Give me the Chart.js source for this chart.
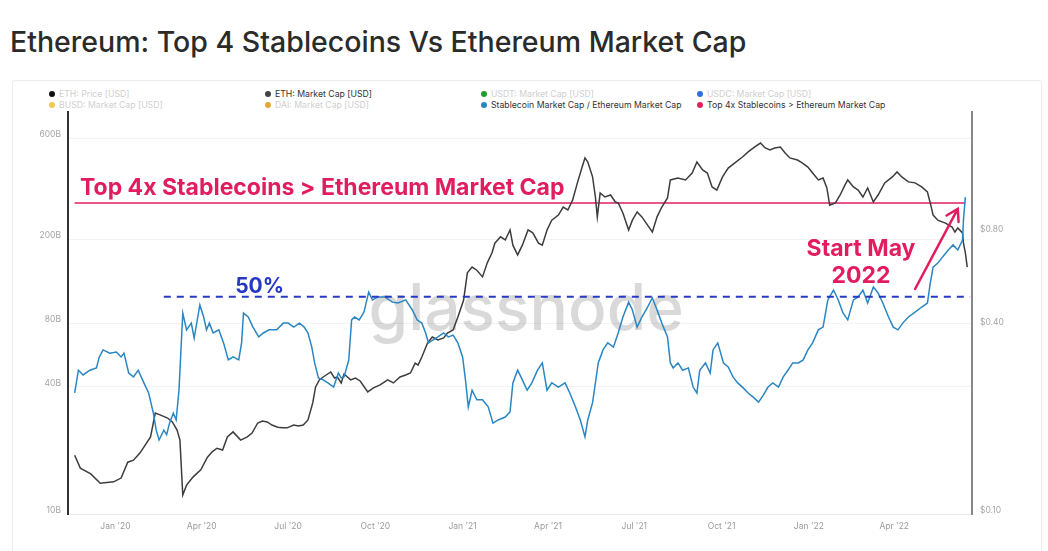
<!DOCTYPE html>
<html>
<head>
<meta charset="utf-8">
<script src="https://cdn.jsdelivr.net/npm/chart.js@4.4.0/dist/chart.umd.min.js"></script>
<style>
    html, body { margin: 0; padding: 0; background: #fff; }
    body { width: 1048px; height: 551px; position: relative; overflow: hidden; font-family: Inter, 'Noto Sans', sans-serif; }
    #title { position: absolute; left: 10px; top: 25px; font-size: 28.5px; line-height: 34px; color: #2b2b2b; font-weight: 500; white-space: nowrap; }
    #card { position: absolute; left: 12px; top: 80px; width: 1028px; height: 480px; border: 1px solid #ececec; border-radius: 3px; }
    #legend { position: absolute; left: 49px; top: 88px; display: grid; grid-template-columns: repeat(4, 216px); grid-template-rows: 11px 11px; grid-auto-flow: column; font-size: 8.7px; }
    .item { display: flex; align-items: center; white-space: nowrap; }
    .dot { width: 6px; height: 6px; border-radius: 50%; margin-right: 4px; }
    .off { color: #cfcfcf; }
    .on { color: #333; }
    #chart { position: absolute; left: 0; top: 0; }
</style>
</head>
<body>
<div id="title">Ethereum: Top 4 Stablecoins Vs Ethereum Market Cap</div>
<div id="card"></div>
<div id="legend"></div>
<canvas id="chart" width="1048" height="551"></canvas>
<script>
// Quarter ticks on the x axis
const quarterDates = ['2020-01-01', '2020-04-01', '2020-07-01', '2020-10-01', '2021-01-01',
    '2021-04-01', '2021-07-01', '2021-10-01', '2022-01-01', '2022-04-01'];
const quarterLabels = ["Jan '20", "Apr '20", "Jul '20", "Oct '20", "Jan '21",
    "Apr '21", "Jul '21", "Oct '21", "Jan '22", "Apr '22"];

// ETH market cap (billions USD), x = days since 2020-01-01
const ethDay = [-43,-37,-26,-16,-2,6,13,19,26,37,
    42,47,55,60,65,68,71,75,82,90,
    97,102,107,113,118,124,132,139,144,150,
    155,160,165,171,176,181,188,193,198,203,
    208,211,215,219,227,231,234,238,241,248,
    253,258,266,272,279,287,293,300,306,311,
    316,319,323,329,334,340,346,350,356,361,
    367,371,376,381,387,392,397,400,406,411,
    416,419,424,429,435,440,446,450,455,460,
    467,472,477,482,487,492,495,498,503,506,
    508,511,516,522,527,530,535,541,545,550,
    555,561,566,571,576,582,585,593,601,608,
    613,619,624,629,634,640,646,653,661,667,
    674,680,685,690,695,701,706,711,719,724,
    730,735,741,746,750,753,759,764,769,772,
    778,783,788,793,799,804,811,819,824,829,
    836,843,850,856,859,862,867,875,882,885,
    888,893,894,896,898];
const ethMarketCap = [19.0,16.5,15.5,14.0,14.2,14.8,17.6,18.0,19.5,23.2,
    30.1,29.5,28.5,27.3,25.0,22.4,12.3,13.7,15.0,16.2,
    18.6,19.7,20.5,20.1,23.2,24.5,22.4,23.2,24.2,27.0,
    27.6,27.3,26.4,25.8,25.6,25.6,26.4,26.1,26.4,27.9,
    33.6,40.0,43.2,44.6,47.1,44.1,44.6,41.8,46.1,43.2,
    44.1,42.7,37.9,39.6,40.9,43.2,41.8,44.6,45.6,46.6,
    51.9,50.8,55.5,64.6,69.0,66.8,68.3,72.1,74.5,85.8,
    103,139,148,143,133,155,173,192,206,199,
    222,188,169,188,222,215,192,188,222,247,
    261,285,276,308,371,441,487,466,396,318,
    256,332,318,325,301,298,267,222,247,270,
    256,234,217,256,285,315,383,391,383,413,
    466,427,413,355,343,396,436,461,492,520,
    549,573,543,531,543,549,514,487,476,461,
    441,413,383,391,351,291,298,325,362,383,
    355,343,318,351,301,325,371,396,418,396,
    375,371,355,336,298,261,247,239,229,217,
    227,215,192,173,148];

// Stablecoin market cap / Ethereum market cap
const ratioDay = [-43,-39,-34,-27,-20,-17,-13,-6,1,6,
    9,14,19,24,30,35,40,43,46,51,
    54,57,61,64,67,71,75,80,83,89,
    93,96,99,103,109,114,119,124,130,133,
    135,140,145,151,156,162,170,177,182,188,
    194,199,203,207,210,214,219,224,230,235,
    238,241,246,249,252,257,262,267,271,277,
    284,292,298,306,313,318,323,327,330,335,
    340,346,351,356,361,366,369,372,376,381,
    387,393,398,404,411,416,419,424,429,434,
    439,445,450,455,460,467,474,479,485,490,
    495,498,503,506,509,514,519,525,530,535,
    541,545,550,555,561,566,571,576,582,585,
    588,593,598,604,609,613,616,622,627,630,
    635,641,646,651,656,662,667,672,678,683,
    688,693,699,704,709,714,720,725,730,735,
    741,746,751,757,762,767,772,778,783,788,
    793,799,804,809,815,820,825,830,836,843,
    850,856,859,862,867,872,878,883,888,893,
    894,896];
const stableRatio = [0.245,0.290,0.280,0.290,0.295,0.320,0.337,0.329,0.332,0.320,
    0.329,0.284,0.276,0.290,0.264,0.245,0.211,0.186,0.173,0.186,
    0.180,0.196,0.211,0.201,0.250,0.443,0.391,0.411,0.368,0.470,
    0.430,0.391,0.411,0.382,0.391,0.355,0.313,0.320,0.313,0.355,
    0.443,0.430,0.399,0.371,0.382,0.391,0.391,0.411,0.411,0.399,
    0.411,0.399,0.382,0.344,0.306,0.274,0.270,0.264,0.256,0.284,
    0.274,0.276,0.313,0.421,0.430,0.421,0.446,0.517,0.488,0.499,
    0.499,0.480,0.477,0.488,0.453,0.421,0.411,0.382,0.355,0.363,
    0.371,0.382,0.371,0.376,0.355,0.320,0.270,0.221,0.250,0.233,
    0.233,0.221,0.196,0.201,0.205,0.213,0.264,0.290,0.270,0.250,
    0.264,0.290,0.306,0.250,0.264,0.256,0.264,0.245,0.221,0.201,
    0.177,0.201,0.228,0.264,0.306,0.337,0.355,0.344,0.382,0.430,
    0.480,0.453,0.399,0.430,0.463,0.495,0.453,0.411,0.371,0.306,
    0.295,0.306,0.290,0.295,0.256,0.245,0.290,0.306,0.284,0.337,
    0.355,0.306,0.297,0.276,0.264,0.254,0.245,0.238,0.229,0.241,
    0.256,0.264,0.256,0.276,0.290,0.306,0.306,0.313,0.337,0.355,
    0.391,0.399,0.488,0.525,0.488,0.443,0.421,0.488,0.499,0.525,
    0.477,0.537,0.514,0.477,0.430,0.399,0.391,0.411,0.430,0.446,
    0.463,0.477,0.553,0.622,0.641,0.671,0.706,0.733,0.706,0.760,
    0.882,1.045];

// Reference levels
const parityLevel = 1.0;   // top 4 stablecoins = ETH market cap
const halfLevel = 0.5;     // 50% dashed line
const halfLineDays = [51, 901];

// Axis ticks
const capTicks = [10, 40, 80, 200, 600];
const ratioTicks = [0.1, 0.4, 0.8];

// Legend entries (active ones are drawn)
const legendNames = ['ETH: Price [USD]', 'BUSD: Market Cap [USD]', 'ETH: Market Cap [USD]', 'DAI: Market Cap [USD]',
    'USDT: Market Cap [USD]', 'Stablecoin Market Cap / Ethereum Market Cap', 'USDC: Market Cap [USD]', 'Top 4x Stablecoins > Ethereum Market Cap'];
const legendColors = ['#111111', '#f2c94c', '#444444', '#e0a836', '#1f9e2c', '#2a86c2', '#2f6fdc', '#e2215f'];
const legendActive = [false, false, true, false, false, true, false, true];

const PINK = '#e11d5f';
const DASH_BLUE = '#2638c4';

function dayOf(iso) {
    return Math.round((Date.parse(iso) - Date.UTC(2020, 0, 1)) / 86400000);
}
const quarterDays = quarterDates.map(dayOf);

// Build HTML legend
const legendEl = document.getElementById('legend');
legendNames.forEach((name, i) => {
    const item = document.createElement('div');
    item.className = 'item ' + (legendActive[i] ? 'on' : 'off');
    item.innerHTML = `<span class="dot" style="background:${legendColors[i]}"></span>${name}`;
    legendEl.appendChild(item);
});

// Watermark + hand drawn annotations
const annotationPlugin = {
    id: 'annotations',
    beforeDatasetsDraw(chart) {
        const { ctx } = chart;
        const xs = chart.scales.x;
        const yr = chart.scales.yRatio;
        ctx.save();
        ctx.font = '500 64px Inter';
        ctx.fillStyle = 'rgba(0,0,0,0.15)';
        ctx.textAlign = 'center';
        ctx.textBaseline = 'alphabetic';
        ctx.fillText('glassnode', xs.getPixelForValue(433), yr.getPixelForValue(halfLevel) + 33);
        ctx.restore();
    },
    afterDatasetsDraw(chart) {
        const { ctx, chartArea } = chart;
        const xs = chart.scales.x;
        const yr = chart.scales.yRatio;
        const yParity = yr.getPixelForValue(parityLevel);
        const yHalf = yr.getPixelForValue(halfLevel);
        ctx.save();

        ctx.fillStyle = PINK;
        ctx.font = 'bold 23px Inter';
        ctx.textAlign = 'left';
        ctx.textBaseline = 'alphabetic';
        ctx.fillText('Top 4x Stablecoins > Ethereum Market Cap', chartArea.left + 12, yParity - 8);

        ctx.textAlign = 'center';
        ctx.fillText('Start May', xs.getPixelForValue(786), yHalf - 41);
        ctx.fillText('2022', xs.getPixelForValue(786), yHalf - 14);

        ctx.fillStyle = DASH_BLUE;
        ctx.font = 'bold 21px Inter';
        ctx.fillText('50%', xs.getPixelForValue(152), yHalf - 4);

        // arrow
        const x0 = xs.getPixelForValue(843), y0 = yr.getPixelForValue(0.529);
        const x1 = xs.getPixelForValue(888), y1 = yr.getPixelForValue(0.957);
        const ang = Math.atan2(y1 - y0, x1 - x0);
        ctx.strokeStyle = PINK;
        ctx.lineWidth = 2.5;
        ctx.lineCap = 'round';
        ctx.beginPath();
        ctx.moveTo(x0, y0);
        ctx.lineTo(x1, y1);
        ctx.moveTo(x1 - 13 * Math.cos(ang - 0.55), y1 - 13 * Math.sin(ang - 0.55));
        ctx.lineTo(x1, y1);
        ctx.lineTo(x1 - 13 * Math.cos(ang + 0.55), y1 - 13 * Math.sin(ang + 0.55));
        ctx.stroke();
        ctx.restore();
    }
};

const tickFont = { family: 'Inter', size: 8.5 };

new Chart(document.getElementById('chart').getContext('2d'), {
    type: 'line',
    data: {
        datasets: [
            {
                label: 'Top 4x Stablecoins > Ethereum Market Cap',
                data: [ratioDay[0], ratioDay[ratioDay.length - 1]].map(d => ({ x: d, y: parityLevel })),
                yAxisID: 'yRatio',
                borderColor: PINK,
                borderWidth: 1.5,
                pointRadius: 0,
                order: 3
            },
            {
                label: '50%',
                data: halfLineDays.map(d => ({ x: d, y: halfLevel })),
                yAxisID: 'yRatio',
                borderColor: DASH_BLUE,
                borderWidth: 2,
                borderDash: [7, 6],
                pointRadius: 0,
                order: 0
            },
            {
                label: 'ETH: Market Cap [USD]',
                data: ethDay.map((d, i) => ({ x: d, y: ethMarketCap[i] })),
                yAxisID: 'yCap',
                borderColor: '#3d3d3d',
                borderWidth: 1.5,
                pointRadius: 0,
                order: 2
            },
            {
                label: 'Stablecoin Market Cap / Ethereum Market Cap',
                data: ratioDay.map((d, i) => ({ x: d, y: stableRatio[i] })),
                yAxisID: 'yRatio',
                borderColor: '#2a86c2',
                borderWidth: 1.5,
                pointRadius: 0,
                order: 1
            }
        ]
    },
    options: {
        responsive: false,
        animation: false,
        devicePixelRatio: 1,
        layout: { padding: { left: 12, right: 8, top: 112, bottom: 10 } },
        plugins: {
            legend: { display: false },
            tooltip: { enabled: false }
        },
        scales: {
            x: {
                type: 'linear',
                min: -50,
                max: 903,
                afterBuildTicks: scale => { scale.ticks = quarterDays.map(v => ({ value: v })); },
                afterFit: scale => { scale.height = 27; },
                ticks: {
                    autoSkip: false,
                    maxRotation: 0,
                    padding: 7,
                    color: '#9a9a9a',
                    font: tickFont,
                    callback: (v) => quarterLabels[quarterDays.indexOf(v)]
                },
                grid: { display: false, drawTicks: false },
                border: { color: '#e6e6e6', width: 1 }
            },
            yCap: {
                type: 'logarithmic',
                position: 'left',
                min: 10,
                max: 804,
                afterBuildTicks: scale => { scale.ticks = capTicks.map(v => ({ value: v })); },
                afterFit: scale => { scale.width = 56; },
                ticks: {
                    padding: 7,
                    labelOffset: -4,
                    color: '#a6a6a6',
                    font: tickFont,
                    callback: v => v + 'B'
                },
                grid: { color: '#f3f3f3', drawTicks: false },
                border: { color: '#333', width: 2 }
            },
            yRatio: {
                type: 'logarithmic',
                position: 'right',
                min: 0.1,
                max: 1.962,
                afterBuildTicks: scale => { scale.ticks = ratioTicks.map(v => ({ value: v })); },
                afterFit: scale => { scale.width = 68; },
                ticks: {
                    padding: 8,
                    labelOffset: -4,
                    color: '#a6a6a6',
                    font: tickFont,
                    callback: v => '$' + v.toFixed(2)
                },
                grid: { display: false, drawTicks: false },
                border: { color: '#888', width: 2 }
            }
        }
    },
    plugins: [annotationPlugin]
});
</script>
</body>
</html>
